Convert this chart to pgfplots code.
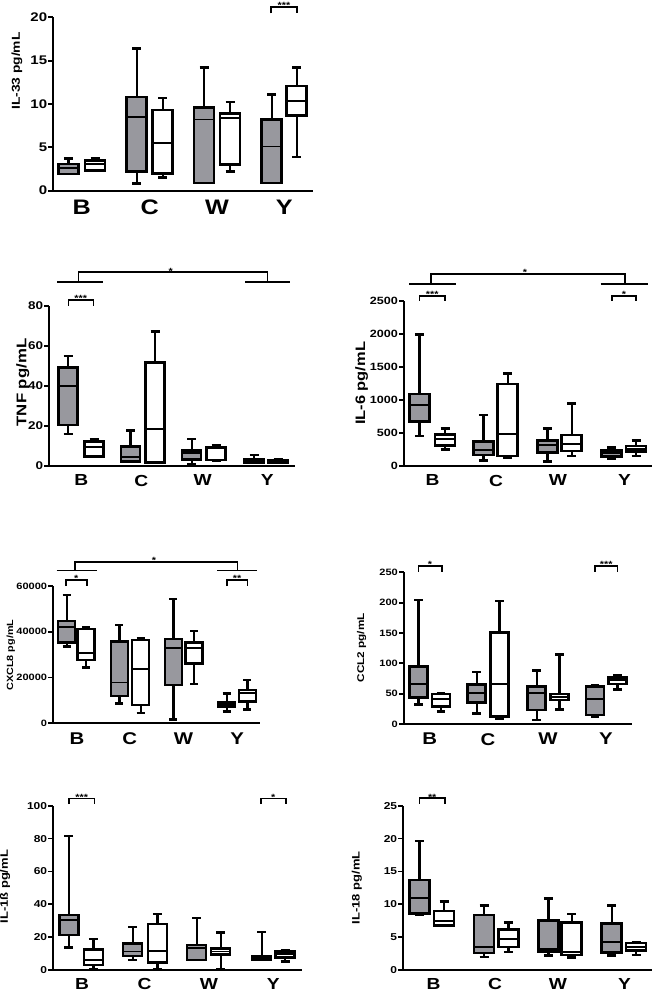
\documentclass[border=0pt]{standalone}
\usepackage{fontspec}
\setmainfont{Liberation Sans}[FakeStretch=1.2]
\usepackage{pgfplots}
\pgfplotsset{compat=1.18}
\usepgfplotslibrary{statistics}
\definecolor{boxgray}{RGB}{152,152,158}

\newcommand{\fs}[1]{\bfseries\fontsize{#1}{#1}\selectfont}

\pgfplotsset{
  panel/.style={
    scale only axis, clip=false, anchor=south west,
    axis lines=left, axis line style={-, line width=1.8pt},
    ymin=0,
    tick align=outside, major tick length=5pt,
    ytick style={line width=1.8pt, black},
    xtick style={draw=none},
    xticklabels={B,C,W,Y},
    xticklabel style={inner sep=0pt, anchor=north, yshift=-4pt},
    yticklabel style={inner sep=1pt},
    /pgf/number format/assume math mode=true,
    /pgf/number format/1000 sep={},
    scaled y ticks=false,
    boxplot/draw direction=y,
    boxplot/every median/.style={line width=1.8pt},
    boxplot/every whisker/.style={line width=2.4pt},
  },
  gbox/.style={draw=black, fill=boxgray, line width=2.5pt},
  wbox/.style={draw=black, fill=white, line width=2.5pt},
}
\tikzset{
  sigline/.style={line width=1.6pt, black},
  sigtext/.style={font=\fs{9}, anchor=south, inner sep=0pt, yshift=-2pt},
}

% gray / white box: position, low whisker, Q1, median, Q3, high whisker
\newcommand{\bxg}[6]{\addplot[gbox, boxplot prepared={draw position=#1, lower whisker=#2, lower quartile=#3, median=#4, upper quartile=#5, upper whisker=#6}] coordinates {};}
\newcommand{\bxw}[6]{\addplot[wbox, boxplot prepared={draw position=#1, lower whisker=#2, lower quartile=#3, median=#4, upper quartile=#5, upper whisker=#6}] coordinates {};}
% bracket: x1, x2, xmid, top, leg end, text
\newcommand{\sig}[6]{\draw[sigline] (axis cs:#1,#5) -- (axis cs:#1,#4) -- (axis cs:#2,#4) -- (axis cs:#2,#5);
  \node[sigtext] at (axis cs:#3,#4) {#6};}

\begin{document}
\begin{tikzpicture}
\useasboundingbox (0,0) rectangle (652pt,992pt);

% IL-33
\begin{axis}[panel, at={(53.3pt,801.3pt)}, width=260pt, height=173.4pt,
  xmin=53.3, xmax=313.3, ymax=20, ytick={0,5,...,20},
  xtick={81.7,149.7,217,284.2},
  boxplot/box extend=20, boxplot/whisker extend=9,
  xticklabel style={font=\fs{21}}, yticklabel style={font=\fs{12.5}},
  ylabel={IL-33 pg/mL}, ylabel style={font=\fs{11.5}, at={(axis description cs:-0.14,0.69)}, anchor=center}]
\bxg{68.3}{1.9}{1.9}{2.6}{3.1}{3.7}
\bxw{95}{2.3}{2.3}{3.1}{3.5}{3.7}
\bxg{136.7}{0.85}{2.2}{8.5}{10.8}{16.4}
\bxw{162.7}{1.5}{2.0}{5.5}{9.3}{10.7}
\bxg{204}{0.9}{0.9}{8.2}{9.6}{14.2}
\bxw{230}{2.2}{3.0}{8.4}{8.9}{10.2}
\bxg{271.7}{0.9}{0.9}{5.1}{8.2}{11.1}
\bxw{296.7}{3.9}{8.7}{10.3}{12.1}{14.2}
\sig{271}{296.7}{283.9}{21.22}{20.46}{***}
\end{axis}

% TNF
\begin{axis}[panel, at={(49.3pt,526.3pt)}, width=245.7pt, height=160pt,
  xmin=49.3, xmax=295, ymax=80, ytick={0,20,...,80},
  xtick={81.3,141.4,202.8,267.2},
  boxplot/box extend=19, boxplot/whisker extend=9,
  xticklabel style={font=\fs{16}}, yticklabel style={font=\fs{11.2}},
  ylabel={TNF pg/mL}, ylabel style={font=\fs{14}, at={(axis description cs:-0.108,0.52)}, anchor=center}]
\bxg{68}{15.7}{20.3}{40}{49.2}{54.8}
\bxw{94}{4.2}{4.5}{9.2}{12}{13.3}
\bxg{130.5}{1.7}{2}{4.2}{9.5}{17.5}
\bxw{155}{1.5}{1.5}{18.3}{51.7}{67}
\bxg{191.7}{0.8}{3.2}{6.2}{7.5}{13.3}
\bxw{216}{2.5}{2.8}{8.7}{9.2}{10.3}
\bxg{254}{1.2}{1.7}{2.5}{3.2}{5.3}
\bxw{278}{1.5}{1.7}{2.3}{2.8}{3.3}
\sig{68.3}{93.3}{80.8}{82.85}{80}{***}
\draw[sigline] (axis cs:57,91.7) -- (axis cs:103,91.7);
\draw[sigline] (axis cs:245,91.7) -- (axis cs:290,91.7);
\sig{78.3}{267.3}{170.7}{96.7}{91.7}{*}
\end{axis}

% IL-6
\begin{axis}[panel, at={(404pt,526.3pt)}, width=248pt, height=164.7pt,
  xmin=404, xmax=652, ymax=2500, ytick={0,500,...,2500},
  xtick={432.5,496,558,624.5},
  boxplot/box extend=20, boxplot/whisker extend=9,
  xticklabel style={font=\fs{16}}, yticklabel style={font=\fs{10.5}},
  ylabel={IL-6 pg/mL}, ylabel style={font=\fs{13.7}, at={(axis description cs:-0.171,0.50)}, anchor=center}]
\bxg{419.3}{450}{668}{921}{1088}{1994}
\bxw{445}{248}{304}{400}{476}{567}
\bxg{483.3}{76}{162}{238}{364}{769}
\bxw{507.7}{127}{147}{476}{1240}{1402}
\bxg{547.3}{61}{202}{314}{380}{567}
\bxw{571.7}{147}{223}{329}{466}{946}
\bxg{611.7}{111}{137}{187}{228}{278}
\bxw{636}{147}{213}{248}{299}{380}
\sig{419.3}{445}{432.2}{2576}{2500}{***}
\sig{611.7}{636}{623.9}{2576}{2500}{*}
\draw[sigline] (axis cs:409,2758) -- (axis cs:456,2758);
\draw[sigline] (axis cs:600.7,2758) -- (axis cs:648,2758);
\sig{430.7}{625}{525}{2910}{2758}{*}
\end{axis}

% CXCL8 (values in thousands of pg/mL; tick labels give full values)
\begin{axis}[panel, at={(53.3pt,268.7pt)}, width=206.7pt, height=137.3pt,
  xmin=53.3, xmax=260, ymax=60, ytick={0,20,40,60}, yticklabels={0,20000,40000,60000},
  xtick={77,129.7,183.5,237.2},
  boxplot/box extend=17, boxplot/whisker extend=8,
  xticklabel style={font=\fs{17}}, yticklabel style={font=\fs{9.2}},
  ylabel={CXCL8 pg/mL}, ylabel style={font=\fs{9}, at={(axis description cs:-0.205,0.497)}, anchor=center}]
\bxg{66.7}{33.5}{35.4}{42.2}{44.7}{56.0}
\bxw{86}{24.3}{27.7}{30.6}{41.2}{41.9}
\bxg{119.3}{8.7}{11.9}{17.8}{35.7}{43.0}
\bxw{140.7}{4.4}{8.0}{23.7}{36.4}{37.4}
\bxg{173.3}{1.7}{16.7}{32.8}{36.8}{54.3}
\bxw{194}{17.2}{26.2}{32.8}{35.4}{40.3}
\bxg{226.7}{5.1}{7.3}{8.4}{9.2}{13.1}
\bxw{247.3}{6.1}{9.5}{13.4}{14.6}{18.9}
\sig{65.7}{86.7}{76.2}{62.62}{60}{*}
\sig{226.7}{247.3}{237}{62.62}{60}{**}
\draw[sigline] (axis cs:56.7,66.69) -- (axis cs:96.7,66.69);
\draw[sigline] (axis cs:217.3,66.69) -- (axis cs:256.7,66.69);
\sig{75}{237.3}{154}{70.49}{66.69}{*}
\end{axis}

% CCL2
\begin{axis}[panel, at={(404pt,268pt)}, width=227.7pt, height=151.7pt,
  xmin=404, xmax=631.7, ymax=250, ytick={0,50,...,250},
  xtick={429.7,488,548,606},
  boxplot/box extend=18, boxplot/whisker extend=8.5,
  xticklabel style={font=\fs{17}}, yticklabel style={font=\fs{9.2}},
  ylabel={CCL2 pg/mL}, ylabel style={font=\fs{9.8}, at={(axis description cs:-0.186,0.502)}, anchor=center}]
\bxg{418.3}{32.4}{44}{65.9}{94.5}{204.4}
\bxw{441}{20.3}{28.6}{41}{49.5}{50}
\bxg{476.7}{17.6}{35.7}{50.6}{65.4}{85.2}
\bxw{499.3}{9.3}{12.1}{65.9}{151.1}{202.8}
\bxg{536.7}{6.6}{23.1}{51.7}{61.5}{87.9}
\bxw{559.3}{24.2}{39.6}{45.1}{49.5}{114.8}
\bxg{595}{12.1}{14.8}{40.7}{61.5}{64.3}
\bxw{617.3}{57.1}{65.9}{72.5}{76.9}{80.8}
\sig{418.3}{441.7}{430}{260.4}{251}{*}
\sig{595}{617.3}{606.2}{260.4}{251}{***}
\end{axis}

% IL-1ß
\begin{axis}[panel, at={(53.3pt,22pt)}, width=248.4pt, height=164.3pt,
  xmin=53.3, xmax=301.7, ymax=100, ytick={0,20,...,100},
  xtick={82,144.5,209,273.3},
  boxplot/box extend=19, boxplot/whisker extend=9,
  xticklabel style={font=\fs{16}, yshift=1pt}, yticklabel style={font=\fs{10}},
  ylabel={IL-1ß pg/mL}, ylabel style={font=\fs{10.8}, at={(axis description cs:-0.194,0.507)}, anchor=center}]
\bxg{69}{13.8}{21.3}{30.4}{33.5}{81.5}
\bxw{93.3}{0.4}{3.0}{6.1}{12.6}{18.7}
\bxg{132.7}{6.1}{8.5}{11.2}{16.2}{26}
\bxw{157.3}{0.4}{4.5}{11.8}{28}{34.1}
\bxg{196.7}{6.1}{6.1}{13.2}{15.2}{31.8}
\bxw{220.7}{0.4}{9.5}{11.2}{13.2}{22.9}
\bxg{261.7}{6.1}{6.1}{7.1}{8.1}{23.3}
\bxw{285}{5.1}{7.7}{9.7}{11.2}{12.2}
\sig{69}{94.3}{81.7}{104.5}{101}{***}
\sig{260.7}{286}{273.3}{104.5}{101}{*}
\end{axis}

% IL-18
\begin{axis}[panel, at={(403.3pt,22pt)}, width=248.7pt, height=164.3pt,
  xmin=403.3, xmax=652, ymax=25, ytick={0,5,...,25},
  xtick={433.5,495,558,624.5},
  boxplot/box extend=20, boxplot/whisker extend=9,
  xticklabel style={font=\fs{16}, yshift=1pt}, yticklabel style={font=\fs{10}},
  ylabel={IL-18 pg/mL}, ylabel style={font=\fs{10.8}, at={(axis description cs:-0.187,0.5)}, anchor=center}]
\bxg{419.3}{8.4}{8.6}{11.0}{13.7}{19.6}
\bxw{444}{6.7}{6.8}{7.5}{9.0}{10.4}
\bxg{484}{2.0}{2.6}{3.5}{8.4}{9.8}
\bxw{508.3}{2.7}{3.5}{4.7}{6.2}{7.2}
\bxg{548.3}{2.2}{2.8}{3.2}{7.5}{10.9}
\bxw{571.7}{1.9}{2.3}{2.7}{7.2}{8.5}
\bxg{611.7}{2.2}{2.7}{4.3}{7.1}{9.8}
\bxw{636}{2.3}{3.0}{3.5}{4.1}{4.3}
\sig{419.3}{445}{432.2}{26.13}{25.26}{**}
\end{axis}
\end{tikzpicture}
\end{document}
